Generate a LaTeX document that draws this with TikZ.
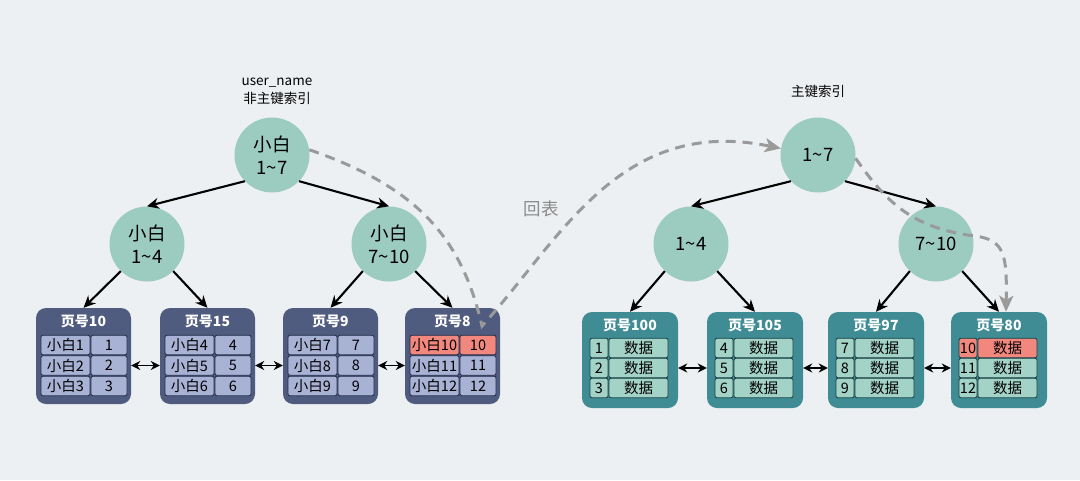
\documentclass[tikz,border=0pt]{standalone}
\usepackage{fontspec}
\setmainfont{Noto Sans CJK SC}
\usetikzlibrary{arrows.meta}
\definecolor{bg}{HTML}{EDF0F2}
\definecolor{mint}{HTML}{9CCBBF}
\definecolor{lpagec}{HTML}{4F5B7F}
\definecolor{lcellc}{HTML}{A8B2D5}
\definecolor{lbord}{HTML}{262E4A}
\definecolor{rpagec}{HTML}{3F8C94}
\definecolor{rcellc}{HTML}{A3D2C6}
\definecolor{rbord}{HTML}{1C4246}
\definecolor{hl}{HTML}{F2877E}
\definecolor{dashc}{HTML}{9A9A9A}
\tikzset{
  treecircle/.style={circle, fill=mint, minimum size=75pt, inner sep=0pt, align=center, font=\fontsize{18.5}{23}\selectfont},
  lpage/.style={rounded corners=10pt, fill=lpagec, minimum width=95pt, minimum height=96pt, inner sep=0pt},
  rpage/.style={rounded corners=10pt, fill=rpagec, minimum width=96pt, minimum height=96pt, inner sep=0pt},
  ptitle/.style={text=white, font=\fontsize{14}{14}\selectfont\bfseries, inner sep=0pt},
  cellbase/.style={rounded corners=2pt, minimum height=19.5pt, inner sep=0pt, line width=0.8pt, font=\fontsize{14.5}{14.5}\selectfont},
  lcell/.style={cellbase, draw=lbord},
  rcell/.style={cellbase, draw=rbord},
  treearrow/.style={line width=2.1pt, -{Stealth[length=12pt,width=11pt]}},
  linkarrow/.style={line width=1.8pt, {Stealth[length=9pt,width=9pt]}-{Stealth[length=9pt,width=9pt]}},
  backarrow/.style={dashc, line width=3pt, dash pattern=on 10pt off 7pt, -{Stealth[length=16pt,width=14pt,inset=4pt]}},
  plainlabel/.style={font=\fontsize{13.5}{18}\selectfont, align=center, inner sep=0pt},
}
\newcommand{\lpg}[5]{%
  \node[lpage] (#1) at (#2+47.5,356) {};
  \node[ptitle] (#1t) at (#2+47.5,321) {#3};
  \foreach \r in {0,1,2} {
    \pgfmathtruncatemacro\nn{#4+\r}
    \ifnum\nn=#5 \def\cf{hl}\else\def\cf{lcellc}\fi
    \node[lcell, fill=\cf, minimum width=49pt] (#1a\r) at (#2+29.5,345+20.5*\r) {小白\nn};
    \node[lcell, fill=\cf, minimum width=36pt] (#1b\r) at (#2+73,345+20.5*\r) {\nn};
  }}
\newcommand{\rpg}[5]{%
  \node[rpage] (#1) at (#2+48,360) {};
  \node[ptitle] (#1t) at (#2+48,325) {#3};
  \foreach \r in {0,1,2} {
    \pgfmathtruncatemacro\nn{#4+\r}
    \ifnum\nn=#5 \def\cf{hl}\else\def\cf{rcellc}\fi
    \node[rcell, fill=\cf, minimum width=18pt] (#1a\r) at (#2+17,348+20*\r) {\nn};
    \node[rcell, fill=\cf, minimum width=59pt] (#1b\r) at (#2+56.5,348+20*\r) {数据};
  }}
\begin{document}
\begin{tikzpicture}[x=1pt,y=-1pt]
\path[use as bounding box, fill=bg] (0,0) rectangle (1080,480);

% left tree
\node[plainlabel] (lname) at (277,91) {user\_name\\非主键索引};
\node[treecircle] (lroot) at (272,155) {小白\\1\textasciitilde7};
\node[treecircle] (l1) at (147,244) {小白\\1\textasciitilde4};
\node[treecircle] (l2) at (389,244) {小白\\7\textasciitilde10};
\lpg{p10}{36}{页号10}{1}{0}
\lpg{p15}{160}{页号15}{4}{0}
\lpg{p9}{283}{页号9}{7}{0}
\lpg{p8}{405}{页号8}{10}{10}

\draw[treearrow] (lroot.-136) -- (l1.north);
\draw[treearrow] (lroot.-44) -- (l2.north);
\draw[treearrow] (l1.-134) -- (p10.north);
\draw[treearrow] (l1.-46) -- (p15.north);
\draw[treearrow] (l2.-134) -- (p9.north);
\draw[treearrow] (l2.-46) -- (p8.north);
\draw[linkarrow] (p10.east |- p10a1.center) -- (p15.west |- p10a1.center);
\draw[linkarrow] (p15.east |- p15a1.center) -- (p9.west |- p15a1.center);
\draw[linkarrow] (p9.east |- p9a1.center) -- (p8.west |- p9a1.center);

% right tree
\node[plainlabel] (rname) at (818,91) {主键索引};
\node[treecircle] (rroot) at (818,155) {1\textasciitilde7};
\node[treecircle] (r1) at (691,244) {1\textasciitilde4};
\node[treecircle] (r2) at (936,244) {7\textasciitilde10};
\rpg{p100}{582}{页号100}{1}{0}
\rpg{p105}{707}{页号105}{4}{0}
\rpg{p97}{828}{页号97}{7}{0}
\rpg{p80}{951}{页号80}{10}{10}

\draw[treearrow] (rroot.-136) -- (r1.north);
\draw[treearrow] (rroot.-44) -- (r2.north);
\draw[treearrow] (r1.-134) -- (p100.north);
\draw[treearrow] (r1.-46) -- (p105.north);
\draw[treearrow] (r2.-134) -- (p97.north);
\draw[treearrow] (r2.-46) -- (p80.north);
\draw[linkarrow] (p100.east |- p100a1.center) -- (p105.west |- p100a1.center);
\draw[linkarrow] (p105.east |- p105a1.center) -- (p97.west |- p105a1.center);
\draw[linkarrow] (p97.east |- p97a1.center) -- (p80.west |- p97a1.center);

% back-to-table path
\coordinate (turn) at (482,326);
\draw[backarrow] (lroot.8) .. controls (420,188) and (462,240) .. (turn)
  .. controls (560,240) and (620,115) .. (rroot.170);
\node[font=\fontsize{17.5}{17.5}\selectfont, text=dashc!90!black, inner sep=0pt] (huibiao) at (541,209) {回表};
\draw[backarrow] (rroot.-5) .. controls (885,200) and (910,228) .. (975,236)
  .. controls (1005,240) and (1007,255) .. (p80.north -| 1006,0);
\end{tikzpicture}
\end{document}
